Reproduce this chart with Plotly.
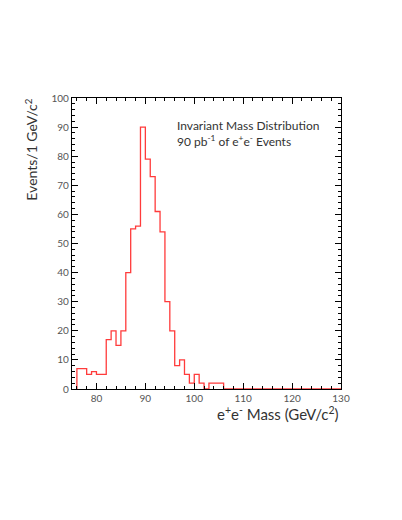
import plotly.graph_objects as go

# 1 GeV bins, left edges 76..129
bin_lo = list(range(76, 130))
counts = [7, 7, 5, 6, 5, 5, 17, 20, 15, 20,
          40, 55, 56, 90, 79, 73, 61, 54, 30, 20,
          8, 10, 5, 2, 5, 2, 0, 2, 2, 2,
          0, 0, 0, 0, 0, 0, 0, 0, 0, 0,
          0, 0, 0, 0, 0, 0, 0, 0, 0, 0,
          0, 0, 0, 0]

x_ticks = [80, 90, 100, 110, 120, 130]
y_ticks = [0, 10, 20, 30, 40, 50, 60, 70, 80, 90, 100]

FONT = "Lato"
TEXT = "#333333"

# step outline: start at the floor of the first bin, close at the last edge
xs = [bin_lo[0]] + bin_lo + [bin_lo[-1] + 1]
ys = [0] + counts + [counts[-1]]

fig = go.Figure()
fig.add_trace(go.Scatter(
    x=xs, y=ys, mode="lines", line_shape="hv",
    line=dict(color="#ff3b3b", width=1.3),
    showlegend=False, hoverinfo="skip"))

axis_common = dict(
    showline=True, linecolor="black", linewidth=1.3, mirror="ticks",
    ticks="inside", ticklen=6, tickcolor="black", tickwidth=1,
    showgrid=False, zeroline=False,
    tickfont=dict(family=FONT, size=10, color="#555555"))

fig.update_xaxes(range=[75, 130], tickvals=x_ticks,
                 minor=dict(dtick=2, tick0=76, ticks="inside", ticklen=3, tickcolor="black"),
                 **axis_common)
fig.update_yaxes(range=[0, 100], tickvals=y_ticks,
                 minor=dict(dtick=2, ticks="inside", ticklen=3, tickcolor="black"),
                 **axis_common)

fig.add_annotation(text="Invariant Mass Distribution<br>90 pb<sup>-1</sup> of e<sup>+</sup>e<sup>-</sup> Events",
                   xref="x", yref="y", x=96.0, y=93.8, xanchor="left", yanchor="top",
                   align="left", showarrow=False,
                   font=dict(family=FONT, size=12, color=TEXT))
fig.add_annotation(text="Events/1 GeV/c<sup>2</sup>", textangle=-90,
                   xref="paper", yref="paper", x=-0.152, y=1.005, xanchor="center", yanchor="top",
                   showarrow=False, font=dict(family=FONT, size=14, color=TEXT))
fig.add_annotation(text="e<sup>+</sup>e<sup>-</sup> Mass (GeV/c<sup>2</sup>)",
                   xref="paper", yref="paper", x=1.0, y=-0.045, xanchor="right", yanchor="top",
                   showarrow=False, font=dict(family=FONT, size=15, color=TEXT))

fig.update_layout(width=394, height=512, paper_bgcolor="white", plot_bgcolor="white",
                  margin=dict(l=64, r=61, t=90, b=131))

fig.write_html("out.html")
